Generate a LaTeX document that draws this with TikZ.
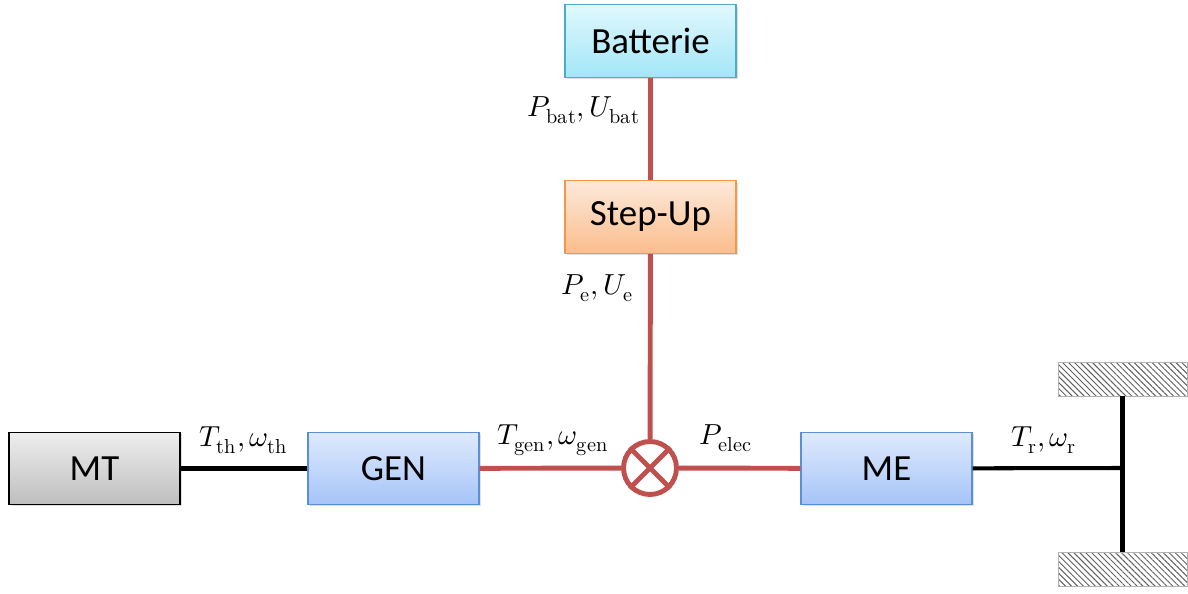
\documentclass[tikz,border=0pt]{standalone}
\usepackage{fontspec}
\usepackage{unicode-math}
\setmainfont{Carlito}
\setmathfont{Latin Modern Math}
\usetikzlibrary{shadows,patterns.meta}
\definecolor{linered}{HTML}{C0504D}
\definecolor{batline}{HTML}{4BACC6}
\definecolor{battop}{HTML}{E0F8FD}
\definecolor{batbot}{HTML}{A3E6F8}
\definecolor{stepline}{HTML}{F79646}
\definecolor{steptop}{HTML}{FDE9DA}
\definecolor{stepbot}{HTML}{FBBD8C}
\definecolor{blueline}{HTML}{5B8FD5}
\definecolor{bluetop}{HTML}{DEEAFD}
\definecolor{bluebot}{HTML}{A6C4F8}
\definecolor{graytop}{HTML}{EEEEEE}
\definecolor{graybot}{HTML}{BEBEBE}
\tikzset{
    block/.style={draw, line width=0.8pt, minimum width=3.42cm, minimum height=1.45cm,
        font=\fontsize{21}{24}\selectfont,
        drop shadow={opacity=0.25, shadow xshift=1pt, shadow yshift=-1pt}},
    redline/.style={linered, line width=2.8pt},
    blackline/.style={black, line width=2.3pt},
    lbl/.style={font=\fontsize{16.5}{19}\selectfont, inner sep=1pt},
    wheel/.style={draw=gray!60, thin, minimum width=2.58cm, minimum height=0.68cm,
        pattern={Lines[angle=-45, distance=2.4pt, line width=0.55pt]}, pattern color=gray!75!black}
}
\begin{document}
\begin{tikzpicture}[x=0.02cm, y=-0.02cm]
    \useasboundingbox (0,0) rectangle (1188,594);
    % blocs
    \node[block, top color=battop, bottom color=batbot, draw=batline] (bat) at (650.5,41) {Batterie};
    \node[block, top color=steptop, bottom color=stepbot, draw=stepline] (stepup) at (650.5,217) {Step-Up};
    \node[block, top color=graytop, bottom color=graybot, draw=black] (mt) at (94.5,468.5) {MT};
    \node[block, top color=bluetop, bottom color=bluebot, draw=blueline] (gen) at (393.5,468.5) {GEN};
    \node[block, top color=bluetop, bottom color=bluebot, draw=blueline] (me) at (886.5,468.5) {ME};
    \node[circle, draw=linered, line width=2.8pt, minimum size=1.06cm, inner sep=0pt] (sum) at (650,468) {};
    % roues
    \node[wheel] (wheeltop) at (1122.5,379) {};
    \node[wheel] (wheelbot) at (1122.5,569) {};
    \coordinate (axle) at (1122,468);
    % liaisons
    \draw[redline] (bat) -- (stepup);
    \draw[redline] (stepup) -- (sum);
    \draw[redline] (gen) -- (sum);
    \draw[redline] (sum) -- (me);
    \draw[redline] (sum.north west) -- (sum.south east);
    \draw[redline] (sum.north east) -- (sum.south west);
    \draw[blackline] (mt) -- (gen);
    \draw[blackline] (me) -- (axle);
    \draw[blackline] (wheeltop.south) -- (wheelbot.north);
    % grandeurs
    \node[lbl, anchor=east] (lbat) at (642,110) {$P_{\symup{bat}}, U_{\symup{bat}}$};
    \node[lbl, anchor=east] (le) at (635,288) {$P_{\symup{e}}, U_{\symup{e}}$};
    \node[lbl] (lth) at (244,440) {$T_{\symup{th}}, \omega_{\symup{th}}$};
    \node[lbl] (lgen) at (553,440) {$T_{\symup{gen}}, \omega_{\symup{gen}}$};
    \node[lbl] (lelec) at (726,438) {$P_{\symup{elec}}$};
    \node[lbl] (lr) at (1044,440) {$T_{\symup{r}}, \omega_{\symup{r}}$};
\end{tikzpicture}
\end{document}
